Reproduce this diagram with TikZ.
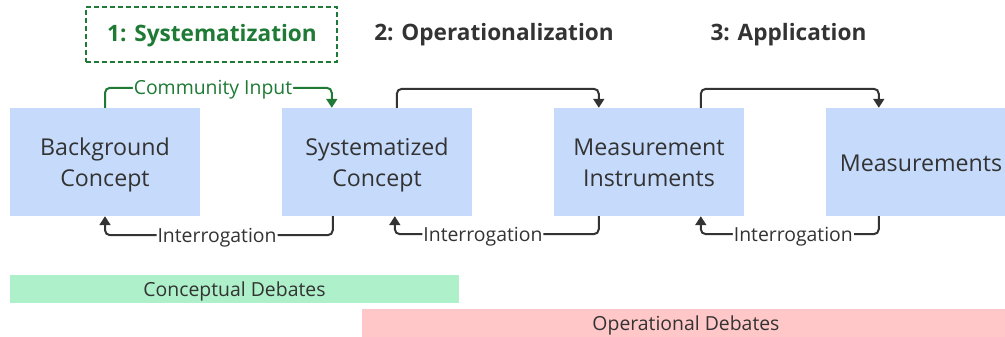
\documentclass[tikz,border=0pt]{standalone}
\usepackage{fontspec}
\setmainfont{Open Sans}
\usetikzlibrary{arrows.meta,calc}
\definecolor{boxblue}{HTML}{C6DBFB}
\definecolor{cgreen}{HTML}{ADF0C9}
\definecolor{opink}{HTML}{FFC7C7}
\definecolor{tgreen}{HTML}{1E7A34}
\definecolor{dark}{HTML}{333333}
\newcommand\mybxtext[1]{\raisebox{-3pt}[\height][\depth]{\begin{tabular}{@{}c@{}}#1\end{tabular}}}
\begin{document}
\begin{tikzpicture}[x=1pt,y=-1pt,
  cbox/.style={fill=boxblue, minimum width=190pt, minimum height=108pt, align=center,
    text=dark, font=\fontsize{23.2}{31}\selectfont, inner sep=0pt},
  conn/.style={draw=dark, line width=2pt, rounded corners=5pt, -{Triangle[width=11pt,length=9pt]}},
  gconn/.style={draw=tgreen, line width=2pt, rounded corners=5pt, -{Triangle[width=11pt,length=9pt]}},
  lbl/.style={fill=white, text=dark, font=\fontsize{19.4}{20}\selectfont, inner sep=1pt, text depth=0pt},
  glbl/.style={fill=white, text=tgreen, font=\fontsize{19.4}{20}\selectfont, inner sep=1pt, text depth=0pt},
  title/.style={font=\bfseries\fontsize{22.6}{24}\selectfont, text=dark, inner sep=0pt, text depth=0pt},
  band/.style={minimum height=28pt, inner sep=0pt, text=dark, font=\fontsize{19.4}{20}\selectfont, text depth=0pt}
]
\useasboundingbox (0,0) rectangle (1005,337);
\clip (0,0) rectangle (1005,337);

% titles
\node[draw=tgreen, dashed, dash pattern=on 5pt off 3pt, line width=1.5pt,
      minimum width=251pt, minimum height=55pt, inner sep=0pt] (t1box) at (211.5,34.5) {};
\node[title, text=tgreen] (t1) at (212,33) {1: Systematization};
\node[title] (t2) at (494,32) {2: Operationalization};
\node[title] (t3) at (788.5,32) {3: Application};

% boxes
\node[cbox] (bg) at (105,162) {\mybxtext{Background\\Concept}};
\node[cbox] (sc) at (377,162) {\mybxtext{Systematized\\Concept}};
\node[cbox] (mi) at (649,162) {\mybxtext{Measurement\\Instruments}};
\node[cbox] (ms) at (921,162) {\mybxtext{Measurements}};

% community input
\draw[gconn] (bg.north) |- node[pos=0.738, glbl] (ci) {Community Input}
   ($(sc.north west)+(50,-20)$) -- ($(sc.north west)+(50,0)$);

% forward arrows
\draw[conn] ($(sc.north west)+(115,0)$) |- ($(mi.north west)+(45,-19)$) -- ($(mi.north west)+(45,0)$);
\draw[conn] ($(mi.north west)+(147,0)$) |- ($(ms.north west)+(53,-19)$) -- ($(ms.north west)+(53,0)$);

% interrogation arrows
\draw[conn] ($(sc.south west)+(51,0)$) |- node[pos=0.754, lbl] (i1) {Interrogation}
   ($(bg.south)+(0,19)$) -- (bg.south);
\draw[conn] ($(mi.south west)+(45,0)$) |- node[pos=0.784, lbl] (i2) {Interrogation}
   ($(sc.south west)+(113,18)$) -- ($(sc.south west)+(113,0)$);
\draw[conn] ($(ms.south west)+(53,0)$) |- node[pos=0.74, lbl] (i3) {Interrogation}
   ($(mi.south west)+(147,18)$) -- ($(mi.south west)+(147,0)$);

% debates
\node[band, fill=cgreen, minimum width=449pt] (cd) at (234.5,289) {Conceptual Debates};
\node[band, fill=opink, minimum width=648pt] (od) at (686,323) {Operational Debates};
\end{tikzpicture}
\end{document}
